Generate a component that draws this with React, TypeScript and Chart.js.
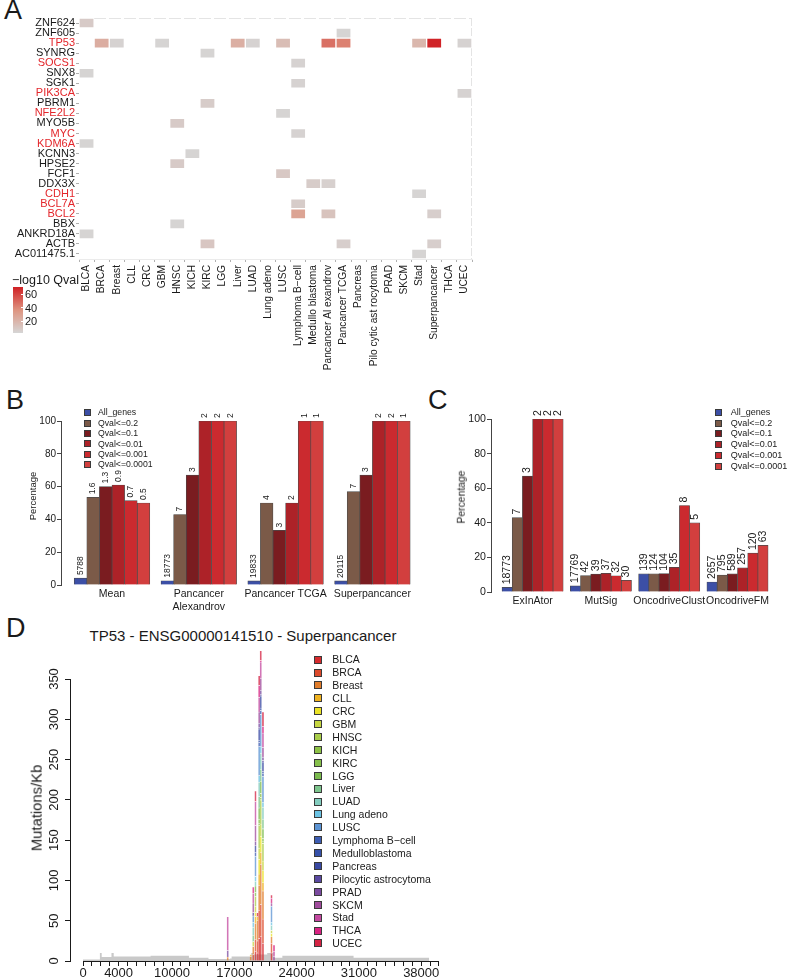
import React, { useEffect, useRef } from 'react';
import { Chart, registerables } from 'chart.js';

Chart.register(...registerables);

const FONT = '"Liberation Sans", Arial, Helvetica, sans-serif';
const INK = '#1a1a1a';
Chart.defaults.font.family = FONT;

// ---------------- Panel A data ----------------
const heatGenes = ['ZNF624', 'ZNF605', 'TP53', 'SYNRG', 'SOCS1', 'SNX8', 'SGK1', 'PIK3CA', 'PBRM1', 'NFE2L2', 'MYO5B', 'MYC', 'KDM6A', 'KCNN3', 'HPSE2', 'FCF1', 'DDX3X', 'CDH1', 'BCL7A', 'BCL2', 'BBX', 'ANKRD18A', 'ACTB', 'AC011475.1'];
const heatRedGenes = ['TP53', 'SOCS1', 'PIK3CA', 'NFE2L2', 'MYC', 'KDM6A', 'CDH1', 'BCL7A', 'BCL2'];
const heatTumors = ['BLCA', 'BRCA', 'Breast', 'CLL', 'CRC', 'GBM', 'HNSC', 'KICH', 'KIRC', 'LGG', 'Liver', 'LUAD', 'Lung adeno', 'LUSC', 'Lymphoma B\u2212cell', 'Medullo blastoma', 'Pancancer Al exandrov', 'Pancancer TCGA', 'Pancreas', 'Pilo cytic ast rocytoma', 'PRAD', 'SKCM', 'Stad', 'Superpancancer', 'THCA', 'UCEC'];
const heatCells: [string, string, number][] = [
  ['ZNF624', 'BLCA', 10],
  ['ZNF605', 'Pancancer TCGA', 5],
  ['TP53', 'BRCA', 25],
  ['TP53', 'Breast', 6],
  ['TP53', 'GBM', 5],
  ['TP53', 'Liver', 24],
  ['TP53', 'LUAD', 6],
  ['TP53', 'LUSC', 17],
  ['TP53', 'Pancancer Al exandrov', 48],
  ['TP53', 'Pancancer TCGA', 43],
  ['TP53', 'Stad', 20],
  ['TP53', 'Superpancancer', 70],
  ['TP53', 'UCEC', 6],
  ['SYNRG', 'KIRC', 5],
  ['SOCS1', 'Lymphoma B\u2212cell', 6],
  ['SNX8', 'BLCA', 5],
  ['SGK1', 'Lymphoma B\u2212cell', 6],
  ['PIK3CA', 'UCEC', 6],
  ['PBRM1', 'KIRC', 9],
  ['NFE2L2', 'LUSC', 5],
  ['MYO5B', 'HNSC', 10],
  ['MYC', 'Lymphoma B\u2212cell', 6],
  ['KDM6A', 'BLCA', 5],
  ['KCNN3', 'KICH', 5],
  ['HPSE2', 'HNSC', 10],
  ['FCF1', 'LUSC', 11],
  ['DDX3X', 'Medullo blastoma', 9],
  ['DDX3X', 'Pancancer Al exandrov', 7],
  ['CDH1', 'Stad', 5],
  ['BCL7A', 'Lymphoma B\u2212cell', 9],
  ['BCL2', 'Lymphoma B\u2212cell', 30],
  ['BCL2', 'Pancancer Al exandrov', 14],
  ['BCL2', 'Superpancancer', 8],
  ['BBX', 'HNSC', 5],
  ['ANKRD18A', 'BLCA', 5],
  ['ACTB', 'KIRC', 12],
  ['ACTB', 'Pancancer TCGA', 8],
  ['ACTB', 'Superpancancer', 8],
  ['AC011475.1', 'Stad', 5],
];
const heatLegendTicks = [20, 40, 60];
const heatStops: [number, [number, number, number]][] = [
  [4, [214, 214, 214]],
  [37, [222, 150, 130]],
  [71, [208, 32, 36]],
];

// ---------------- Panels B / C data ----------------
const qSeries = ['All_genes', 'Qval<=0.2', 'Qval<=0.1', 'Qval<=0.01', 'Qval<=0.001', 'Qval<=0.0001'];
const qColors = ['#3c4fa6', '#7b5a48', '#7a1c20', '#ad2228', '#cb2a2f', '#d23f3e'];

const bCategories: (string | string[])[] = ['Mean', ['Pancancer', 'Alexandrov'], 'Pancancer TCGA', 'Superpancancer'];
const bValues = [
  [4.2, 2.6, 2.5, 2.5],
  [53.5, 43, 50, 57],
  [60, 67, 33.3, 67],
  [61, 100, 50, 100],
  [51.5, 100, 100, 100],
  [50, 100, 100, 100],
];
const bLabels = [
  ['5788', '18773', '19833', '20115'],
  ['1.6', '7', '4', '7'],
  ['1.3', '3', '3', '3'],
  ['0.9', '2', '2', '2'],
  ['0.7', '2', '1', '2'],
  ['0.5', '2', '1', '1'],
];

const cCategories = ['ExInAtor', 'MutSig', 'OncodriveClust', 'OncodriveFM'];
const cValues = [
  [2.7, 3.5, 10.5, 5.8],
  [43, 9.5, 10.5, 9.8],
  [67, 10.3, 10.6, 10.5],
  [100, 10.8, 14.3, 14],
  [100, 9.4, 50, 22.5],
  [100, 6.7, 40, 27],
];
const cLabels = [
  ['18773', '17769', '139', '2657'],
  ['7', '42', '124', '795'],
  ['3', '39', '104', '589'],
  ['2', '37', '35', '257'],
  ['2', '32', '8', '120'],
  ['2', '30', '5', '63'],
];
const pctTicks = [0, 20, 40, 60, 80, 100];

// ---------------- Panel D data ----------------
const dTitle = 'TP53 - ENSG00000141510 - Superpancancer';
const dTumors = ['BLCA', 'BRCA', 'Breast', 'CLL', 'CRC', 'GBM', 'HNSC', 'KICH', 'KIRC', 'LGG', 'Liver', 'LUAD', 'Lung adeno', 'LUSC', 'Lymphoma B\u2212cell', 'Medulloblastoma', 'Pancreas', 'Pilocytic astrocytoma', 'PRAD', 'SKCM', 'Stad', 'THCA', 'UCEC'];
const dColors = ['#d62a2d', '#dc4a2b', '#e17d2b', '#efb21f', '#ebe326', '#c6d641', '#a9cd4a', '#8dc246', '#86c04b', '#7bbb4e', '#7dc58d', '#83cdbf', '#6cc3e4', '#5b93d3', '#3d5db2', '#3651a9', '#3949a3', '#5a49a1', '#7a4a9f', '#a04b9c', '#c349a0', '#d92282', '#d42343'];
const dPositions = [16258, 18843, 19135, 19382, 19607, 19800, 19970, 20220, 21180, 21461];
const dStack: number[][] = [
  // BLCA
  [0, 0, 0, 12, 10, 28, 30, 22, 10, 0],
  // BRCA
  [0, 0, 8, 15, 15, 35, 40, 30, 12, 0],
  // Breast
  [5, 6, 10, 20, 25, 31, 50, 35, 8, 0],
  // CLL
  [0, 2, 0, 8, 5, 14, 15, 10, 0, 0],
  // CRC
  [0, 0, 0, 5, 0, 18, 20, 15, 4, 0],
  // GBM
  [0, 0, 6, 8, 0, 14, 15, 12, 4, 0],
  // HNSC
  [0, 0, 0, 12, 0, 28, 30, 22, 0, 0],
  // KICH
  [0, 0, 0, 0, 0, 3, 3, 2, 0, 0],
  // KIRC
  [0, 0, 0, 5, 0, 5, 5, 4, 0, 0],
  // LGG
  [0, 0, 0, 8, 0, 14, 15, 12, 0, 0],
  // Liver
  [0, 0, 8, 0, 0, 14, 15, 12, 0, 0],
  // LUAD
  [0, 0, 10, 6, 0, 18, 20, 15, 6, 0],
  // Lung adeno
  [0, 0, 6, 6, 0, 8, 8, 6, 4, 0],
  // LUSC
  [0, 0, 8, 25, 0, 36, 40, 32, 20, 0],
  // Lymphoma B-cell
  [0, 0, 0, 5, 0, 5, 5, 4, 0, 0],
  // Medulloblastoma
  [0, 0, 0, 0, 0, 3, 3, 2, 0, 0],
  // Pancreas
  [0, 0, 0, 8, 0, 14, 15, 12, 0, 0],
  // Pilocytic astrocytoma
  [0, 0, 4, 0, 0, 2, 2, 2, 0, 0],
  // PRAD
  [8, 0, 0, 5, 0, 5, 5, 4, 0, 0],
  // SKCM
  [0, 0, 12, 20, 0, 14, 15, 12, 4, 6],
  // Stad
  [42, 0, 12, 30, 0, 18, 20, 18, 0, 6],
  // THCA
  [0, 0, 8, 0, 0, 15, 2, 8, 6, 8],
  // UCEC
  [0, 0, 0, 13, 5, 12, 12, 18, 4, 0],
];
// gray background: each value holds from its x until the next x
const dGrayX = [0, 1900, 2100, 3200, 3450, 7600, 11900, 14100, 16500, 16700, 18900, 19100, 20700, 21400, 22400, 30400, 38900];
const dGrayY = [2, 10, 5, 10, 5.5, 6.5, 4, 2.5, 3, 5.5, 10, 8, 10, 4, 6.5, 4, 0];
const dYTicks = [0, 50, 100, 150, 200, 250, 300, 350];
const dXLabeled = [0, 4000, 10000, 17000, 24000, 31000, 38000];
const dXTickMax = 40000;

// ---------------- helpers ----------------
function heatColor(v: number): string {
  const s = heatStops;
  const f = (c: number[]) => `rgb(${Math.round(c[0])},${Math.round(c[1])},${Math.round(c[2])})`;
  if (v <= s[0][0]) return f(s[0][1]);
  for (let i = 1; i < s.length; i++) {
    if (v <= s[i][0]) {
      const t = (v - s[i - 1][0]) / (s[i][0] - s[i - 1][0]);
      const a = s[i - 1][1], b = s[i][1];
      return f([a[0] + (b[0] - a[0]) * t, a[1] + (b[1] - a[1]) * t, a[2] + (b[2] - a[2]) * t]);
    }
  }
  return f(s[s.length - 1][1]);
}

function noPadX(s: any) { s.paddingLeft = 0; s.paddingRight = 0; }
function noPadY(s: any) { s.paddingTop = 0; s.paddingBottom = 0; }

function ChartCanvas({ left, top, width, height, build }: { left: number; top: number; width: number; height: number; build: (c: HTMLCanvasElement) => Chart }) {
  const ref = useRef<HTMLCanvasElement | null>(null);
  useEffect(() => {
    const chart = build(ref.current as HTMLCanvasElement);
    return () => chart.destroy();
  }, []);
  return <canvas ref={ref} width={width} height={height} style={{ position: 'absolute', left, top, width, height }} />;
}

function Txt({ x, cy, size, children, align = 'left', color = INK }: { x: number; cy: number; size: number; children: React.ReactNode; align?: 'left' | 'right' | 'center'; color?: string }) {
  const tx = align === 'left' ? '0' : align === 'right' ? '-100%' : '-50%';
  return (
    <div style={{ position: 'absolute', left: x, top: cy - 0.49 * size, fontSize: size, lineHeight: 1, whiteSpace: 'nowrap', color, transform: `translateX(${tx})` }}>
      {children}
    </div>
  );
}

function VTxt({ cx, cy, size, children }: { cx: number; cy: number; size: number; children: React.ReactNode }) {
  return (
    <div style={{ position: 'absolute', left: cx, top: cy, fontSize: size, lineHeight: 1, whiteSpace: 'nowrap', color: INK, transform: 'translate(-50%, -50%) rotate(-90deg)' }}>
      {children}
    </div>
  );
}

function Swatch({ x, cy, size, color }: { x: number; cy: number; size: number; color: string }) {
  return <div style={{ position: 'absolute', left: x, top: cy - size / 2, width: size, height: size, boxSizing: 'border-box', background: color, border: '0.8px solid #3a3a3a' }} />;
}

// ---------------- Panel A ----------------
const A_W = 480, A_H = 385, A_LEFT = 79, A_TOP = 18, A_RIGHT = 472, A_BOTTOM = 259;

const heatFramePlugin = {
  id: 'heatFrame',
  beforeDatasetsDraw(chart: any) {
    const { ctx, chartArea } = chart;
    const { left, right, top, bottom } = chartArea;
    ctx.save();
    ctx.strokeStyle = '#e4e4e4';
    ctx.lineWidth = 1;
    ctx.setLineDash([12, 3]);
    ctx.beginPath();
    ctx.moveTo(left, top + 0.5);
    ctx.lineTo(right, top + 0.5);
    ctx.stroke();
    ctx.setLineDash([8, 2]);
    ctx.beginPath();
    ctx.moveTo(right - 0.5, top);
    ctx.lineTo(right - 0.5, bottom);
    ctx.stroke();
    ctx.restore();
  },
};

function buildHeat(canvas: HTMLCanvasElement) {
  return new Chart(canvas, {
    type: 'bar',
    data: {
      labels: heatTumors,
      datasets: [
        {
          data: heatCells.map(([g, t]) => {
            const r = heatGenes.indexOf(g);
            return { x: t, y: [r - 0.5, r + 0.5] };
          }) as any,
          backgroundColor: heatCells.map((c) => heatColor(c[2])),
          borderColor: '#ffffff',
          borderWidth: 1,
          borderSkipped: false,
          categoryPercentage: 1,
          barPercentage: 1,
        },
      ],
    },
    options: {
      animation: false,
      responsive: false,
      devicePixelRatio: 1,
      layout: { padding: { top: A_TOP, right: A_W - A_RIGHT, left: 0, bottom: 0 } },
      plugins: { legend: { display: false }, tooltip: { enabled: false } },
      scales: {
        x: {
          type: 'category',
          offset: true,
          grid: { display: true, drawOnChartArea: false, drawTicks: true, tickLength: 3, color: '#b0b0b0' },
          border: { display: true, color: '#ebebeb' },
          ticks: { autoSkip: false, minRotation: 90, maxRotation: 90, padding: 3, color: INK, font: { family: FONT, size: 10.2 } },
          afterFit: (s: any) => { s.height = A_H - A_BOTTOM; noPadX(s); },
        },
        y: {
          type: 'linear',
          min: -0.5,
          max: heatGenes.length - 0.5,
          reverse: true,
          afterBuildTicks: (s: any) => { s.ticks = heatGenes.map((_, i) => ({ value: i })); },
          grid: { display: true, drawOnChartArea: false, tickLength: 3, color: '#b0b0b0' },
          border: { display: false },
          ticks: {
            autoSkip: false,
            padding: 1,
            font: { family: FONT, size: 11 },
            callback: (v: any) => heatGenes[v as number],
            color: (ctx: any) => (heatRedGenes.includes(heatGenes[ctx.tick?.value]) ? '#e3262b' : INK),
          },
          afterFit: (s: any) => { s.width = A_LEFT; noPadY(s); },
        },
      } as any,
    },
    plugins: [heatFramePlugin],
  });
}

// ---------------- Panels B / C ----------------
function barLabelPlugin(labels: string[][], size: number, gap: number) {
  return {
    id: 'barLabels',
    afterDatasetsDraw(chart: any) {
      const ctx = chart.ctx;
      ctx.save();
      ctx.font = `${size}px ${FONT}`;
      ctx.fillStyle = INK;
      ctx.textAlign = 'left';
      ctx.textBaseline = 'middle';
      chart.data.datasets.forEach((_: any, di: number) => {
        chart.getDatasetMeta(di).data.forEach((el: any, i: number) => {
          ctx.save();
          ctx.translate(el.x, el.y - gap);
          ctx.rotate(-Math.PI / 2);
          ctx.fillText(labels[di][i], 0, 0);
          ctx.restore();
        });
      });
      ctx.restore();
    },
  };
}

type GroupCfg = {
  width: number; height: number; axisX: number; top: number; bottom: number; right: number;
  center0: number; period: number; barW: number;
  categories: (string | string[])[]; values: number[][]; labels: string[][];
  tickFont: number; catFont: number; labelFont: number;
};

function buildGrouped(canvas: HTMLCanvasElement, cfg: GroupCfg) {
  return new Chart(canvas, {
    type: 'bar',
    data: {
      datasets: qSeries.map((name, i) => ({
        label: name,
        data: cfg.values[i].map((v, j) => ({ x: j, y: v })),
        backgroundColor: qColors[i],
        borderColor: '#4a4a4a',
        borderWidth: 0.7,
        barThickness: cfg.barW,
      })),
    },
    options: {
      animation: false,
      responsive: false,
      devicePixelRatio: 1,
      layout: { padding: { top: cfg.top, right: cfg.width - cfg.right, left: 0, bottom: 0 } },
      plugins: { legend: { display: false }, tooltip: { enabled: false } },
      scales: {
        x: {
          type: 'linear',
          offset: false,
          min: -(cfg.center0 - cfg.axisX) / cfg.period,
          max: (cfg.right - cfg.center0) / cfg.period,
          afterBuildTicks: (s: any) => { s.ticks = cfg.categories.map((_, i) => ({ value: i })); },
          grid: { display: false, drawTicks: false, offset: false },
          border: { display: false },
          ticks: { autoSkip: false, maxRotation: 0, minRotation: 0, padding: 3, color: INK, font: { family: FONT, size: cfg.catFont, lineHeight: 1.2 }, callback: (v: any) => cfg.categories[v as number] as any },
          afterFit: (s: any) => { s.height = cfg.height - cfg.bottom; noPadX(s); },
        },
        y: {
          type: 'linear',
          min: 0,
          max: 100,
          afterBuildTicks: (s: any) => { s.ticks = pctTicks.map((v) => ({ value: v })); },
          grid: { display: true, drawOnChartArea: false, tickLength: 4, color: '#444' },
          border: { display: true, color: '#444' },
          ticks: { padding: 1, color: INK, font: { family: FONT, size: cfg.tickFont } },
          afterFit: (s: any) => { s.width = cfg.axisX; noPadY(s); },
        },
      } as any,
    },
    plugins: [barLabelPlugin(cfg.labels, cfg.labelFont, 3)],
  });
}

// ---------------- Panel D ----------------
const D_W = 460, D_H = 338, D_LEFT = 70, D_TOP = 39, D_BOTTOM = 321, D_RIGHT = 445;
const D_X0PX = 83, D_PXPER = 0.0089;

const dAxisPlugin = {
  id: 'dAxis',
  afterDraw(chart: any) {
    const { ctx, chartArea } = chart;
    const xs = chart.scales.x, ys = chart.scales.y;
    ctx.save();
    ctx.strokeStyle = INK;
    ctx.lineWidth = 1;
    ctx.beginPath();
    ctx.moveTo(xs.getPixelForValue(0), chartArea.bottom + 0.5);
    ctx.lineTo(xs.getPixelForValue(dXTickMax), chartArea.bottom + 0.5);
    ctx.stroke();
    ctx.font = `13px ${FONT}`;
    ctx.fillStyle = INK;
    ctx.textAlign = 'center';
    ctx.textBaseline = 'middle';
    ys.ticks.forEach((t: any) => {
      const y = ys.getPixelForValue(t.value);
      ctx.save();
      ctx.translate(chartArea.left - 16, y);
      ctx.rotate(-Math.PI / 2);
      ctx.fillText(String(t.value), 0, 0);
      ctx.restore();
    });
    ctx.restore();
  },
};

function buildD(canvas: HTMLCanvasElement) {
  const barSets = dTumors.map((name, ti) => ({
    type: 'bar' as const,
    label: name,
    data: dPositions.map((x, i) => ({ x, y: dStack[ti][i] })).filter((p) => p.y > 0),
    backgroundColor: dColors[ti] + 'c0',
    borderColor: '#ffffff',
    borderWidth: { top: 0.6, left: 0, right: 0, bottom: 0 },
    borderSkipped: false,
    barThickness: 1.7,
    clip: false as any,
    order: 0,
    stack: 'tumors',
  }));
  const grayArea = {
    type: 'line' as const,
    label: 'background',
    data: dGrayX.map((x, i) => ({ x, y: dGrayY[i] })),
    stepped: 'before' as const,
    fill: 'origin',
    backgroundColor: '#c9c9c9',
    borderColor: '#c9c9c9',
    borderWidth: 0,
    pointRadius: 0,
    order: 10,
    stack: 'bg',
  };
  return new Chart(canvas, {
    type: 'bar',
    data: { datasets: [grayArea as any, ...barSets] },
    options: {
      animation: false,
      responsive: false,
      devicePixelRatio: 1,
      layout: { padding: { top: D_TOP, right: D_W - D_RIGHT, left: 0, bottom: 0 } },
      plugins: { legend: { display: false }, tooltip: { enabled: false } },
      scales: {
        x: {
          type: 'linear',
          offset: false,
          stacked: true,
          min: -(D_X0PX - D_LEFT) / D_PXPER,
          max: (D_RIGHT - D_X0PX) / D_PXPER,
          afterBuildTicks: (s: any) => {
            const t = [];
            for (let v = 0; v <= dXTickMax; v += 1000) t.push({ value: v });
            s.ticks = t;
          },
          grid: { display: true, drawOnChartArea: false, tickLength: 5, color: INK, offset: false },
          border: { display: false },
          ticks: { autoSkip: false, maxRotation: 0, minRotation: 0, padding: 0, color: INK, font: { family: FONT, size: 13 }, callback: (v: any) => (dXLabeled.includes(v) ? String(v) : '') },
          afterFit: (s: any) => { s.height = D_H - D_BOTTOM; noPadX(s); },
        },
        y: {
          type: 'linear',
          stacked: true,
          min: 0,
          max: 350,
          afterBuildTicks: (s: any) => { s.ticks = dYTicks.map((v) => ({ value: v })); },
          grid: { display: true, drawOnChartArea: false, tickLength: 5, color: INK },
          border: { display: true, color: INK },
          ticks: { display: false },
          afterFit: (s: any) => { s.width = D_LEFT; noPadY(s); },
        },
      } as any,
    },
    plugins: [dAxisPlugin],
  });
}

// ---------------- App ----------------
export default function App() {
  const gradient = `linear-gradient(to top, ${heatColor(4)} 0%, ${heatColor(37)} 49%, ${heatColor(71)} 100%)`;
  const barTop = 286.7, barBottom = 332.7, vLow = 4, vHigh = 71;
  const yForVal = (v: number) => barBottom - ((v - vLow) / (vHigh - vLow)) * (barBottom - barTop);
  return (
    <div style={{ position: 'absolute', left: 0, top: 0, width: 787, height: 978, background: '#ffffff', overflow: 'hidden', fontFamily: FONT, color: INK }}>
      {/* Panel letters */}
      <Txt x={4} cy={10.5} size={27}>A</Txt>
      <Txt x={6} cy={400} size={27}>B</Txt>
      <Txt x={428} cy={400} size={27}>C</Txt>
      <Txt x={6} cy={628} size={27}>D</Txt>

      {/* Panel A */}
      <ChartCanvas left={0} top={0} width={A_W} height={A_H} build={buildHeat} />
      <Txt x={12} cy={280} size={12.5}>{'\u2212log10 Qval'}</Txt>
      <div style={{ position: 'absolute', left: 12.7, top: barTop, width: 10, height: barBottom - barTop, background: gradient }} />
      {heatLegendTicks.map((v) => (
        <React.Fragment key={v}>
          <div style={{ position: 'absolute', left: 20.7, top: yForVal(v) - 0.5, width: 2, height: 1, background: '#ffffff' }} />
          <Txt x={25} cy={yForVal(v)} size={11}>{String(v)}</Txt>
        </React.Fragment>
      ))}

      {/* Panel B */}
      <ChartCanvas
        left={0}
        top={395}
        width={425}
        height={225}
        build={(c) => buildGrouped(c, { width: 425, height: 225, axisX: 61, top: 26, bottom: 190, right: 416, center0: 112, period: 86.8, barW: 12.6, categories: bCategories, values: bValues, labels: bLabels, tickFont: 10, catFont: 10.5, labelFont: 8.5 })}
      />
      <VTxt cx={33} cy={495.5} size={9.5}>Percentage</VTxt>
      {qSeries.map((s, i) => (
        <React.Fragment key={s}>
          <Swatch x={84} cy={412.7 + i * 10.4} size={7} color={qColors[i]} />
          <Txt x={98} cy={412.7 + i * 10.4} size={8.7}>{s}</Txt>
        </React.Fragment>
      ))}

      {/* Panel C */}
      <ChartCanvas
        left={430}
        top={395}
        width={357}
        height={225}
        build={(c) => buildGrouped(c, { width: 357, height: 225, axisX: 61, top: 24, bottom: 197, right: 345, center0: 102.6, period: 68.3, barW: 10.2, categories: cCategories, values: cValues, labels: cLabels, tickFont: 10.6, catFont: 10.5, labelFont: 10.5 })}
      />
      <VTxt cx={461.7} cy={496.7} size={10.4}>Percentage</VTxt>
      {qSeries.map((s, i) => (
        <React.Fragment key={s}>
          <Swatch x={715} cy={412.3 + i * 10.8} size={7} color={qColors[i]} />
          <Txt x={730.7} cy={412.3 + i * 10.8} size={9}>{s}</Txt>
        </React.Fragment>
      ))}

      {/* Panel D */}
      <Txt x={243} cy={635} size={15} align="center">{dTitle}</Txt>
      <ChartCanvas left={0} top={640} width={D_W} height={D_H} build={buildD} />
      <VTxt cx={36.7} cy={808} size={14.8}>Mutations/Kb</VTxt>
      {dTumors.map((t, i) => (
        <React.Fragment key={t}>
          <Swatch x={314} cy={659.6 + i * 12.9} size={8} color={dColors[i]} />
          <Txt x={332.3} cy={659.6 + i * 12.9} size={10.5}>{t}</Txt>
        </React.Fragment>
      ))}
    </div>
  );
}
